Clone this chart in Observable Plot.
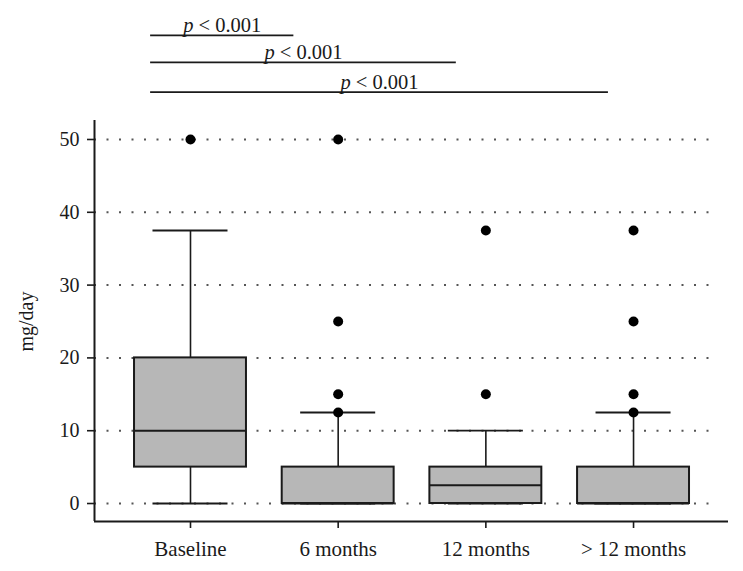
<!DOCTYPE html>
<html>
<head>
<meta charset="utf-8">
<script src="https://cdn.jsdelivr.net/npm/d3@7"></script>
<script src="https://cdn.jsdelivr.net/npm/@observablehq/plot@0.6"></script>
<style>
  html, body { margin: 0; padding: 0; background: white; }
</style>
</head>
<body>
<div id="chart"></div>
<script>
// ---- data ----
const categories = ["Baseline", "6 months", "12 months", "> 12 months"];
const whiskerLow = [0, 0, 0, 0];
const q1 = [5, 0, 0, 0];
const median = [10, 0, 2.5, 0];
const q3 = [20, 5, 5, 5];
const whiskerHigh = [37.5, 12.5, 10, 12.5];
const outlierGroup = [0, 1, 1, 1, 1, 2, 2, 3, 3, 3, 3];
const outlierValue = [50, 12.5, 15, 25, 50, 15, 37.5, 12.5, 15, 25, 37.5];
const yTicks = [0, 10, 20, 30, 40, 50];
// significance comparisons (span in category-index units, height in mg/day units)
const compStart = [-0.27, -0.27, -0.27];
const compEnd = [0.70, 1.80, 2.83];
const compLevel = [64.3, 60.6, 56.5];
const compLabel = ["p < 0.001", "p < 0.001", "p < 0.001"];

// ---- derived tables ----
const boxes = categories.map((c, i) => ({
  i, lo: whiskerLow[i], q1: q1[i], med: median[i], q3: q3[i], hi: whiskerHigh[i]
}));
const outliers = outlierGroup.map((g, k) => ({ i: g, v: outlierValue[k] }));
const comps = compStart.map((s, k) => ({ s, e: compEnd[k], y: compLevel[k], label: compLabel[k] }));

const xDomain = [-0.65, 3.643];
const yDomain = [-2.47, 69.09];
const yAxisTop = 52.6;
const gridEnd = 3.58;
const boxHalf = 0.379;
const capHalf = 0.254;
const font = "Liberation Serif, Times New Roman, serif";
const ink = "#1a1a1a";

const plot = Plot.plot({
  width: 743,
  height: 571,
  marginLeft: 94,
  marginRight: 15,
  marginTop: 0,
  marginBottom: 50,
  style: { fontFamily: font, background: "white", color: ink },
  x: { type: "linear", domain: xDomain },
  y: { type: "linear", domain: yDomain },
  marks: [
    // dotted grid
    Plot.ruleY(yTicks, {
      y: d => d, x1: xDomain[0], x2: gridEnd,
      stroke: "#555", strokeWidth: 2, strokeDasharray: "2,10.5"
    }),
    // whiskers
    Plot.ruleX(boxes, { x: "i", y1: "lo", y2: "q1", stroke: ink, strokeWidth: 1.6 }),
    Plot.ruleX(boxes, { x: "i", y1: "q3", y2: "hi", stroke: ink, strokeWidth: 1.6 }),
    Plot.ruleY(boxes, { y: "lo", x1: d => d.i - capHalf, x2: d => d.i + capHalf, stroke: ink, strokeWidth: 1.8 }),
    Plot.ruleY(boxes, { y: "hi", x1: d => d.i - capHalf, x2: d => d.i + capHalf, stroke: ink, strokeWidth: 1.8 }),
    // boxes
    Plot.rect(boxes, {
      x1: d => d.i - boxHalf, x2: d => d.i + boxHalf, y1: "q1", y2: "q3",
      fill: "#b7b7b7", stroke: ink, strokeWidth: 2
    }),
    Plot.ruleY(boxes, { y: "med", x1: d => d.i - boxHalf, x2: d => d.i + boxHalf, stroke: ink, strokeWidth: 2 }),
    // outliers
    Plot.dot(outliers, { x: "i", y: "v", r: 5, fill: "black", stroke: "none" }),
    // frame axes lines
    Plot.ruleX([xDomain[0]], { x: d => d, y1: yDomain[0], y2: yAxisTop, stroke: ink, strokeWidth: 2 }),
    Plot.ruleY([yDomain[0]], { y: d => d, x1: xDomain[0], x2: xDomain[1], stroke: ink, strokeWidth: 2 }),
    Plot.axisY({
      ticks: yTicks, tickSize: 7, tickPadding: 8, tickFormat: d => String(d),
      label: null, fontSize: 20, stroke: ink, strokeWidth: 1.6, fill: ink
    }),
    Plot.axisX({
      ticks: [0, 1, 2, 3], tickSize: 7, tickPadding: 13, tickFormat: i => categories[i],
      label: null, fontSize: 21, stroke: ink, strokeWidth: 1.6, fill: ink
    }),
    // y label
    Plot.text(["mg/day"], {
      text: d => d, frameAnchor: "left", y: [25], dx: -68, rotate: -90,
      fontSize: 20, fill: ink, textAnchor: "middle", lineAnchor: "middle"
    }),
    // significance brackets
    Plot.ruleY(comps, { y: "y", x1: "s", x2: "e", stroke: ink, strokeWidth: 1.8 }),
    Plot.text(comps, {
      x: d => (d.s + d.e) / 2, y: "y", text: "label", className: "sig",
      fontSize: 20.5, fill: ink, textAnchor: "middle", lineAnchor: "bottom", dy: -3
    })
  ]
});

// italicize the "p" in the significance labels
d3.select(plot).selectAll(".sig text").each(function () {
  const t = this.textContent;
  if (t.startsWith("p")) {
    const sel = d3.select(this);
    sel.text(null);
    sel.append("tspan").attr("font-style", "italic").text("p");
    sel.append("tspan").text(t.slice(1));
  }
});

document.getElementById("chart").appendChild(plot);
</script>
</body>
</html>
